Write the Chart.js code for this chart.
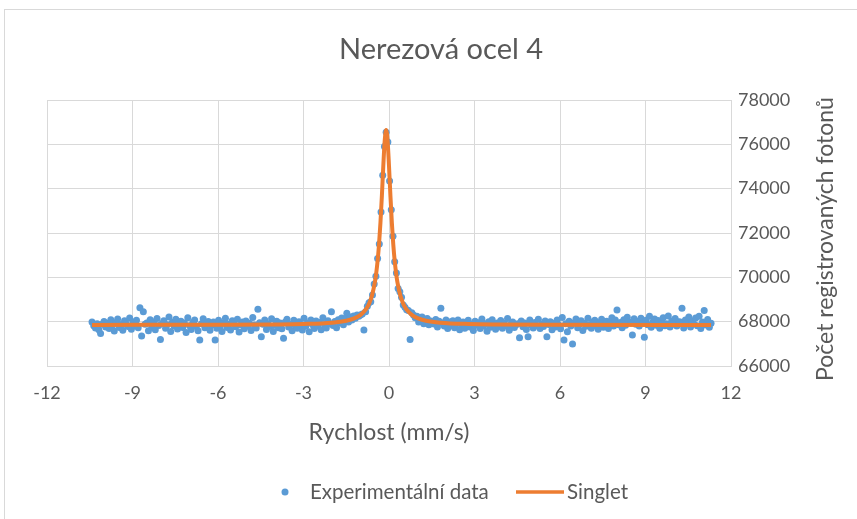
<!DOCTYPE html>
<html>
<head>
<meta charset="utf-8">
<script src="https://cdn.jsdelivr.net/npm/chart.js@4.4.1/dist/chart.umd.min.js"></script>
<style>
  body { margin: 0; background: #fff; }
  #wrap { position: relative; width: 857px; height: 519px; }
</style>
</head>
<body>
<div id="wrap"><canvas id="chart" width="857" height="519"></canvas></div>
<script>
// measured spectrum: source velocity (mm/s) and registered photon counts
const velocity = [
  -10.42,-10.36,-10.30,-10.24,-10.18,-10.12,-10.06,-10.00,-9.94,-9.88,
  -9.82,-9.76,-9.70,-9.64,-9.58,-9.52,-9.46,-9.40,-9.34,-9.28,
  -9.22,-9.16,-9.10,-9.04,-8.98,-8.92,-8.86,-8.80,-8.74,-8.68,
  -8.62,-8.56,-8.50,-8.44,-8.38,-8.32,-8.26,-8.20,-8.14,-8.08,
  -8.02,-7.96,-7.90,-7.84,-7.78,-7.72,-7.66,-7.60,-7.54,-7.48,
  -7.42,-7.36,-7.30,-7.24,-7.18,-7.12,-7.06,-7.00,-6.94,-6.88,
  -6.82,-6.76,-6.70,-6.64,-6.58,-6.52,-6.46,-6.40,-6.34,-6.28,
  -6.22,-6.16,-6.10,-6.04,-5.98,-5.92,-5.86,-5.80,-5.74,-5.68,
  -5.62,-5.56,-5.50,-5.44,-5.38,-5.32,-5.26,-5.20,-5.14,-5.08,
  -5.02,-4.96,-4.90,-4.84,-4.78,-4.72,-4.66,-4.60,-4.54,-4.48,
  -4.42,-4.36,-4.30,-4.24,-4.18,-4.12,-4.06,-4.00,-3.94,-3.88,
  -3.82,-3.76,-3.70,-3.64,-3.58,-3.52,-3.46,-3.40,-3.34,-3.28,
  -3.22,-3.16,-3.10,-3.04,-2.98,-2.92,-2.86,-2.80,-2.74,-2.68,
  -2.62,-2.56,-2.50,-2.44,-2.38,-2.32,-2.26,-2.20,-2.14,-2.08,
  -2.02,-1.96,-1.90,-1.84,-1.78,-1.72,-1.66,-1.60,-1.54,-1.48,
  -1.42,-1.36,-1.30,-1.24,-1.18,-1.12,-1.06,-1.00,-0.94,-0.88,
  -0.82,-0.76,-0.70,-0.64,-0.58,-0.52,-0.46,-0.40,-0.34,-0.28,
  -0.22,-0.16,-0.10,-0.04,0.02,0.08,0.14,0.20,0.26,0.32,
  0.38,0.44,0.50,0.56,0.62,0.68,0.74,0.80,0.86,0.92,
  0.98,1.04,1.10,1.16,1.22,1.28,1.34,1.40,1.46,1.52,
  1.58,1.64,1.70,1.76,1.82,1.88,1.94,2.00,2.06,2.12,
  2.18,2.24,2.30,2.36,2.42,2.48,2.54,2.60,2.66,2.72,
  2.78,2.84,2.90,2.96,3.02,3.08,3.14,3.20,3.26,3.32,
  3.38,3.44,3.50,3.56,3.62,3.68,3.74,3.80,3.86,3.92,
  3.98,4.04,4.10,4.16,4.22,4.28,4.34,4.40,4.46,4.52,
  4.58,4.64,4.70,4.76,4.82,4.88,4.94,5.00,5.06,5.12,
  5.18,5.24,5.30,5.36,5.42,5.48,5.54,5.60,5.66,5.72,
  5.78,5.84,5.90,5.96,6.02,6.08,6.14,6.20,6.26,6.32,
  6.38,6.44,6.50,6.56,6.62,6.68,6.74,6.80,6.86,6.92,
  6.98,7.04,7.10,7.16,7.22,7.28,7.34,7.40,7.46,7.52,
  7.58,7.64,7.70,7.76,7.82,7.88,7.94,8.00,8.06,8.12,
  8.18,8.24,8.30,8.36,8.42,8.48,8.54,8.60,8.66,8.72,
  8.78,8.84,8.90,8.96,9.02,9.08,9.14,9.20,9.26,9.32,
  9.38,9.44,9.50,9.56,9.62,9.68,9.74,9.80,9.86,9.92,
  9.98,10.04,10.10,10.16,10.22,10.28,10.34,10.40,10.46,10.52,
  10.58,10.64,10.70,10.76,10.82,10.88,10.94,11.00,11.06,11.12,
  11.18,11.24,11.30
];
const counts = [
  67980,67820,67710,67905,67640,67470,67880,68010,67760,67930,
  67690,68090,67845,67580,67960,68120,67735,67870,67610,68040,
  67905,67780,68170,67655,67990,67815,68060,67720,68630,67350,
  68450,67880,67935,67590,68085,67760,67990,67640,68140,67830,
  67200,67920,68045,67705,67860,68210,67560,67975,67800,68110,
  67670,67890,68020,67740,67935,67515,68180,67820,67650,67960,
  68070,67780,67590,67170,67905,68130,67720,67860,68010,67615,
  67850,67990,67170,67700,68060,67810,67560,67940,68150,67735,
  67880,67625,68040,67910,67770,68105,67530,67860,67990,67680,
  68025,67795,67930,67600,68190,67845,67710,68560,67955,67320,
  67880,68070,67650,67905,67780,68135,67560,67850,68020,67725,
  67940,67680,67250,67990,68110,67765,67870,67595,68060,67820,
  67705,68000,67885,67620,68150,67790,67935,67540,68075,67860,
  67690,68025,67800,67960,67640,68180,67875,67715,68040,67905,
  68450,67830,68010,67720,68090,67950,68170,67860,68120,68380,
  67990,68210,68080,68260,68150,68300,68240,68300,68350,67620,
  68450,68700,68850,68900,69200,69700,70050,70850,71500,72950,
  74600,75900,76550,76100,74350,73050,71850,70700,70200,69500,
  69350,69100,68750,68650,68540,68500,67200,68400,68300,68180,
  68250,67980,68120,68210,67910,68060,68140,67860,68030,67950,
  67890,68100,67760,68015,68600,67940,67805,68070,67690,67985,
  67830,68045,67720,67910,68080,67640,67875,67990,67705,67930,
  68060,67760,67880,67600,68015,67835,67950,67690,68120,67805,
  67910,67570,67995,67750,68090,67860,67660,67940,67785,68050,
  67700,67925,67820,68140,67615,67880,67990,67740,67860,67905,
  67280,68030,67770,67935,67650,67320,68080,67845,67710,67960,
  67820,68110,67690,67900,67780,68025,67320,67870,67995,67640,
  67930,67760,68070,67845,67680,68190,67170,67905,67550,68020,
  67800,66990,67950,68120,67730,67880,68040,67600,67925,67790,
  68150,67860,67705,67990,68060,67820,67655,67940,68110,67750,
  67880,68020,67690,67935,68180,67800,68070,68530,67860,67960,
  67720,68090,67840,68200,67990,67950,67400,68130,67880,68010,
  67800,68150,67930,67300,68060,67860,68240,67750,67990,68120,
  67840,68050,67700,67960,68180,67820,67905,68260,67760,68030,
  67880,68140,67800,67995,67990,68600,67710,68080,67940,68210,
  67760,68030,67900,68170,67820,68250,67690,67980,68500,67850,
  68100,67750,67930
];

// singlet fit curve
const fitVelocity = [
  -10.42,-6,-4,-3,-2,-1.5,-1.2,-1.0,-0.8,-0.7,-0.6,-0.5,-0.45,-0.4,-0.35,-0.3,-0.25,-0.2,-0.15,
  -0.1,
  -0.05,0,0.05,0.1,0.15,0.2,0.25,0.3,0.4,0.5,0.6,0.8,1.0,1.3,1.8,2.8,3.8,5.8,11.3
];
const fitCounts = [
  67854,67861,67875,67896,67956,68044,68160,68304,68577,68811,69169,69751,70178,70744,71491,72465,73678,75023,76178,
  76650,
  76178,75023,73678,72465,71491,70744,70178,69751,69169,68811,68577,68304,68160,68044,67956,67896,67875,67861,67853
];

const velocityTicks = [-12, -9, -6, -3, 0, 3, 6, 9, 12];
const countTicks = [66000, 68000, 70000, 72000, 74000, 76000, 78000];

const fontFamily = "Lato, 'Open Sans', sans-serif";
const textColor = '#595959';
const gridColor = '#d9d9d9';
const blue = '#5b9bd5';
const orange = '#ed7d31';

// title, right-hand axis title and legend are drawn by hand
const decorations = {
  id: 'decorations',
  beforeDraw(chart) {
    const ctx = chart.ctx;
    ctx.save();
    ctx.fillStyle = '#fff';
    ctx.fillRect(0, 0, chart.width, chart.height);
    ctx.strokeStyle = gridColor;
    ctx.lineWidth = 1;
    ctx.strokeRect(4.5, 9.5, chart.width + 10, chart.height + 10);
    ctx.restore();
  },
  afterDraw(chart) {
    const ctx = chart.ctx;
    ctx.save();
    ctx.fillStyle = textColor;
    ctx.textBaseline = 'middle';

    ctx.textAlign = 'center';
    ctx.font = '29px ' + fontFamily;
    ctx.fillText('Nerezová ocel 4', 441, 50);

    ctx.save();
    ctx.translate(826, 239);
    ctx.rotate(-Math.PI / 2);
    ctx.font = '23px ' + fontFamily;
    ctx.fillText('Počet registrovaných fotonů', 0, 0);
    ctx.restore();

    // legend
    const ly = 492;
    ctx.fillStyle = blue;
    ctx.beginPath();
    ctx.arc(285, ly, 3.5, 0, Math.PI * 2);
    ctx.fill();
    ctx.strokeStyle = orange;
    ctx.lineWidth = 3.5;
    ctx.beginPath();
    ctx.moveTo(516, ly);
    ctx.lineTo(564, ly);
    ctx.stroke();
    ctx.fillStyle = textColor;
    ctx.textAlign = 'left';
    ctx.font = '20.5px ' + fontFamily;
    ctx.fillText('Experimentální data', 310, ly);
    ctx.fillText('Singlet', 567, ly);
    ctx.restore();
  }
};

new Chart(document.getElementById('chart'), {
  type: 'scatter',
  data: {
    datasets: [
      {
        label: 'Experimentální data',
        data: velocity.map((v, i) => ({ x: v, y: counts[i] })),
        backgroundColor: blue,
        borderWidth: 0,
        pointRadius: 3.5,
        order: 1
      },
      {
        label: 'Singlet',
        type: 'line',
        data: fitVelocity.map((v, i) => ({ x: v, y: fitCounts[i] })),
        borderColor: orange,
        borderWidth: 4,
        pointRadius: 0,
        cubicInterpolationMode: 'monotone',
        borderJoinStyle: 'round',
        order: 0
      }
    ]
  },
  options: {
    responsive: false,
    animation: false,
    devicePixelRatio: 1,
    layout: { padding: { left: 47, right: 0, top: 100, bottom: 53 } },
    plugins: {
      legend: { display: false },
      title: { display: false },
      tooltip: { enabled: false }
    },
    scales: {
      x: {
        type: 'linear',
        min: -12,
        max: 12,
        afterBuildTicks: s => { s.ticks = velocityTicks.map(v => ({ value: v })); },
        afterFit: s => { s.height = 100; },
        grid: { color: gridColor, drawTicks: false },
        border: { color: gridColor },
        ticks: {
          color: textColor,
          font: { family: fontFamily, size: 18 },
          padding: 16,
          callback: v => String(v)
        },
        title: {
          display: true,
          text: 'Rychlost (mm/s)',
          color: textColor,
          font: { family: fontFamily, size: 23 },
          padding: { top: 0, bottom: 20 }
        }
      },
      y: {
        position: 'right',
        min: 66000,
        max: 78000,
        afterBuildTicks: s => { s.ticks = countTicks.map(v => ({ value: v })); },
        afterFit: s => { s.width = 126; },
        grid: { color: gridColor, drawTicks: false },
        border: { color: gridColor },
        ticks: {
          color: textColor,
          font: { family: fontFamily, size: 18 },
          padding: 7,
          callback: v => String(v)
        }
      }
    }
  },
  plugins: [decorations]
});
</script>
</body>
</html>
